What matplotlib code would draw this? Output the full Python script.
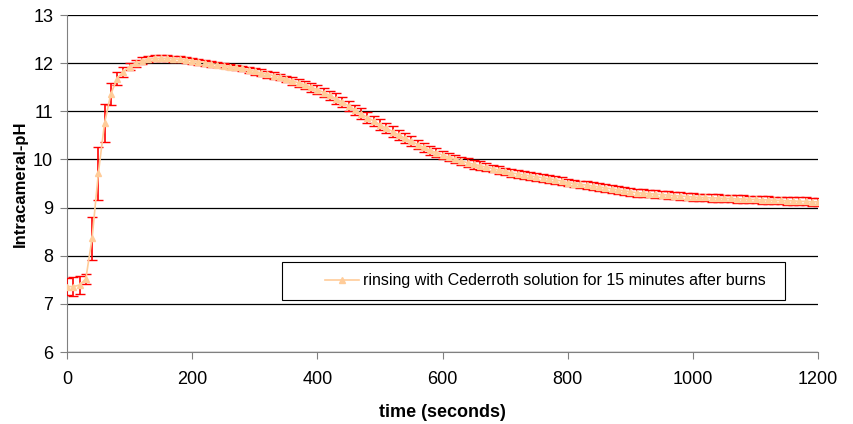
import matplotlib
matplotlib.use("Agg")
import matplotlib.pyplot as plt
from matplotlib.patches import Rectangle

plt.rcParams['font.family'] = ['Liberation Sans', 'DejaVu Sans']

time_s = list(range(0, 1201, 10))
ph = [7.36, 7.36, 7.39, 7.52, 8.36, 9.71, 10.76, 11.36, 11.68, 11.82,
      11.93, 12.00, 12.05, 12.08, 12.10, 12.10, 12.10, 12.09, 12.08, 12.07,
      12.05, 12.03, 12.01, 11.99, 11.97, 11.95, 11.93, 11.91, 11.89, 11.86,
      11.83, 11.80, 11.77, 11.74, 11.71, 11.67, 11.63, 11.59, 11.55, 11.50,
      11.45, 11.39, 11.33, 11.26, 11.19, 11.11, 11.03, 10.95, 10.87, 10.80,
      10.72, 10.65, 10.58, 10.51, 10.44, 10.38, 10.31, 10.25, 10.19, 10.14,
      10.09, 10.05, 10.01, 9.97, 9.93, 9.90, 9.87, 9.84, 9.81, 9.78,
      9.75, 9.72, 9.70, 9.68, 9.66, 9.64, 9.62, 9.60, 9.58, 9.55,
      9.52, 9.50, 9.48, 9.47, 9.45, 9.43, 9.41, 9.39, 9.37, 9.35,
      9.33, 9.31, 9.30, 9.29, 9.28, 9.27, 9.26, 9.25, 9.24, 9.23,
      9.22, 9.21, 9.21, 9.20, 9.20, 9.19, 9.19, 9.18, 9.18, 9.17,
      9.17, 9.16, 9.16, 9.15, 9.15, 9.14, 9.14, 9.13, 9.13, 9.12,
      9.12]
err = [0.18, 0.19, 0.18, 0.11, 0.45, 0.55, 0.40, 0.23, 0.14, 0.10,
       0.08, 0.07, 0.07, 0.06, 0.06, 0.06, 0.06, 0.06, 0.06, 0.06,
       0.06, 0.06, 0.06, 0.06, 0.06, 0.06, 0.06, 0.06, 0.06, 0.06,
       0.07, 0.07, 0.07, 0.07, 0.07, 0.07, 0.08, 0.08, 0.08, 0.09,
       0.09, 0.10, 0.10, 0.11, 0.11, 0.11, 0.11, 0.11, 0.11, 0.11,
       0.11, 0.11, 0.11, 0.11, 0.10, 0.10, 0.10, 0.10, 0.09, 0.09,
       0.09, 0.09, 0.09, 0.09, 0.09, 0.09, 0.09, 0.08, 0.08, 0.08,
       0.08, 0.08, 0.08, 0.08, 0.08, 0.08, 0.08, 0.08, 0.08, 0.08,
       0.08, 0.08, 0.08, 0.09, 0.09, 0.08, 0.08, 0.08, 0.08, 0.08,
       0.08, 0.08, 0.08, 0.08, 0.08, 0.08, 0.08, 0.08, 0.08, 0.08,
       0.08, 0.08, 0.08, 0.08, 0.08, 0.08, 0.08, 0.08, 0.08, 0.08,
       0.08, 0.08, 0.08, 0.08, 0.08, 0.08, 0.08, 0.08, 0.08, 0.08,
       0.08]
label = "rinsing with Cederroth solution for 15 minutes after burns"

fig = plt.figure(figsize=(8.54, 4.24), dpi=100)
ax = fig.add_axes([0.0785, 0.1698, 0.8795, 0.7948])

ax.errorbar(time_s, ph, yerr=err, fmt='none', ecolor='#FF0000',
            elinewidth=1.2, capsize=3.5, capthick=1.0, zorder=3)
ax.plot(time_s, ph, color='#FFCC99', marker='^', markersize=5,
        markeredgecolor='#FFCC99', markerfacecolor='#FFCC99',
        linewidth=1.2, label=label, zorder=4)

ax.set_xlim(0, 1200)
ax.set_ylim(6, 13)
ax.set_xticks(range(0, 1201, 200))
ax.set_yticks(range(6, 14))
ax.yaxis.grid(True, color='black', linewidth=0.9)
ax.set_axisbelow(True)

for s in ['top', 'right']:
    ax.spines[s].set_visible(False)
ax.spines['left'].set_color('#808080')
ax.spines['bottom'].set_color('#808080')
ax.tick_params(axis='both', direction='out', length=5, labelsize=13,
               color='#808080')
ax.tick_params(axis='x', pad=9)
ax.tick_params(axis='y', pad=5)

ax.set_xlabel('time (seconds)', fontsize=13, fontweight='bold', labelpad=11)
ax.set_ylabel('Intracameral-pH', fontsize=12, fontweight='bold', labelpad=4)

ax.add_patch(Rectangle((0.286, 0.1543), 0.670, 0.1128, transform=ax.transAxes,
                       facecolor='white', edgecolor='black', linewidth=0.8,
                       zorder=5))
leg = ax.legend(loc='center left', bbox_to_anchor=(0.3435, 0.2107),
                fontsize=11.5, frameon=False, borderpad=0, borderaxespad=0,
                handlelength=2.1, handletextpad=0.3)
leg.set_zorder(6)

fig.savefig('out.png', dpi=100)
